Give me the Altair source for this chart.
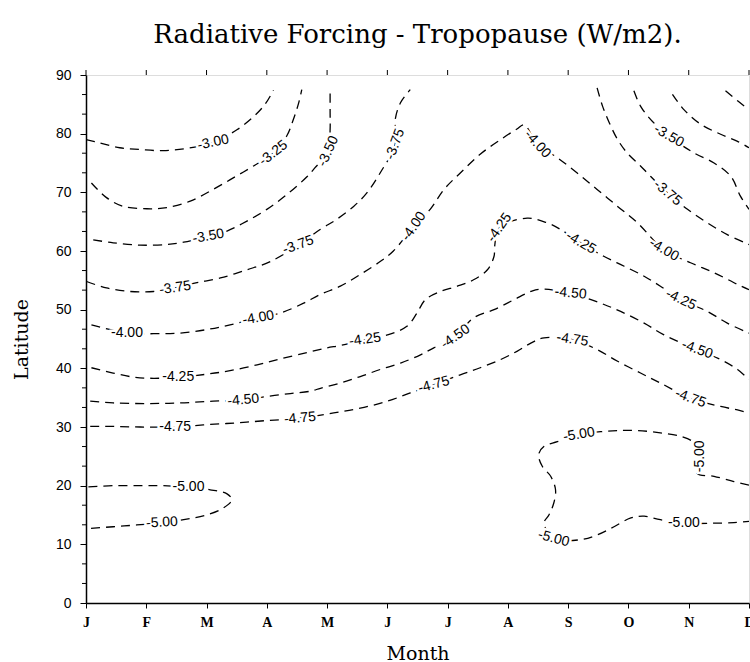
import altair as alt
import pandas as pd

# ---- axis values ----
month_letters = ["J", "F", "M", "A", "M", "J", "J", "A", "S", "O", "N", "D"]
month_ticks = [0, 1, 2, 3, 4, 5, 6, 7, 8, 9, 10, 11]
lat_ticks = [0, 10, 20, 30, 40, 50, 60, 70, 80, 90]
lat_minor = [3.33, 6.67, 13.33, 16.67, 23.33, 26.67, 33.33, 36.67, 43.33, 46.67,
             53.33, 56.67, 63.33, 66.67, 73.33, 76.67, 83.33, 86.67]

# ---- contour lines (month index, latitude) ----
c300_left = [(0.0, 79.0), (0.23, 78.4), (0.56, 77.6), (0.9, 77.3), (1.28, 77.1), (1.68, 77.5),
             (2.11, 78.5), (2.51, 80.7), (2.77, 82.8), (2.97, 85.0), (3.11, 87.4)]
c325_left = [(0.09, 71.6), (0.34, 69.1), (0.62, 67.6), (1.01, 67.2), (1.34, 67.4), (1.73, 68.5),
             (2.11, 70.5), (2.45, 72.5), (2.78, 74.5), (3.11, 76.7), (3.33, 79.6), (3.44, 82.4),
             (3.53, 85.3), (3.58, 87.5)]
c350_left = [(0.12, 61.9), (0.45, 61.4), (0.9, 61.0), (1.34, 61.1), (1.62, 61.5), (2.03, 62.5),
             (2.34, 63.4), (2.67, 65.1), (3.0, 67.1), (3.33, 69.6), (3.67, 72.7), (3.80, 74.2),
             (4.02, 77.0), (4.05, 80.7), (4.05, 83.6), (4.05, 87.3)]
c375_left = [(0.01, 54.8), (0.34, 53.7), (0.73, 53.1), (1.12, 53.1), (1.48, 53.7), (1.84, 54.6),
             (2.23, 55.4), (2.67, 56.8), (3.06, 58.2), (3.52, 61.0), (3.89, 63.7), (4.16, 65.4),
             (4.44, 67.6), (4.66, 69.9), (4.88, 73.3), (5.13, 78.2), (5.13, 82.4), (5.22, 85.3),
             (5.38, 87.5)]
c400 = [(0.09, 47.4), (0.68, 46.0), (1.12, 45.9), (1.56, 46.0), (2.0, 46.6), (2.39, 47.4),
        (2.86, 48.6), (3.22, 49.4), (3.61, 51.1), (3.89, 52.6), (4.22, 54.0), (4.55, 56.0),
        (4.88, 58.2), (5.1, 60.0), (5.44, 64.2), (5.71, 67.1), (5.94, 70.5), (6.21, 73.3),
        (6.54, 76.5), (6.88, 79.0), (7.15, 80.8), (7.27, 81.5), (7.49, 78.2), (7.82, 75.9),
        (8.15, 73.3), (8.48, 70.5), (8.82, 67.6), (9.15, 64.8), (9.59, 60.2), (10.03, 58.0),
        (10.42, 56.3), (10.81, 54.3), (11.0, 53.4)]
c425 = [(0.09, 40.1), (0.45, 39.2), (0.79, 38.5), (1.12, 38.3), (1.53, 38.5), (2.0, 39.0),
        (2.39, 39.6), (2.84, 40.6), (3.22, 41.6), (3.67, 42.7), (4.0, 43.5), (4.22, 43.9),
        (4.63, 44.9), (5.0, 45.7), (5.33, 47.2), (5.49, 49.4), (5.63, 51.7), (5.88, 53.1),
        (6.16, 54.0), (6.43, 55.1), (6.66, 56.8), (6.77, 59.1), (6.78, 60.8), (6.86, 64.0),
        (7.32, 65.6), (7.65, 64.8), (7.87, 63.7), (8.21, 61.4), (8.59, 59.1), (8.93, 57.4),
        (9.26, 55.7), (9.53, 54.0), (9.87, 51.7), (10.31, 49.7), (10.64, 47.7), (11.0, 46.0)]
c450 = [(0.07, 34.4), (0.45, 34.1), (1.01, 34.0), (1.56, 34.1), (2.11, 34.4), (2.61, 34.6),
        (3.0, 35.2), (3.39, 35.7), (3.72, 36.1), (3.89, 36.6), (4.22, 37.5), (4.55, 38.6),
        (4.88, 39.8), (5.22, 40.9), (5.55, 42.3), (5.77, 43.5), (6.13, 45.4), (6.43, 48.6),
        (6.77, 50.0), (7.1, 51.7), (7.38, 53.1), (7.54, 53.5), (8.04, 52.8), (8.54, 51.1),
        (8.87, 49.7), (9.26, 47.7), (9.59, 45.7), (10.14, 43.2), (10.53, 41.5), (10.81, 39.8),
        (11.0, 38.1)]
c475 = [(0.07, 30.1), (0.45, 30.1), (0.9, 30.0), (1.48, 30.0), (2.0, 30.4), (2.5, 30.7),
        (3.0, 31.1), (3.55, 31.5), (4.11, 32.4), (4.55, 33.2), (5.0, 34.4), (5.38, 35.8),
        (5.77, 37.2), (6.21, 38.9), (6.54, 40.1), (6.88, 41.5), (7.15, 42.9), (7.38, 44.3),
        (7.6, 45.2), (8.07, 44.9), (8.48, 43.2), (8.82, 41.2), (9.2, 39.2), (9.53, 37.5),
        (10.03, 34.9), (10.53, 33.5), (10.81, 32.9), (11.0, 32.4)]
c500_left = [(0.04, 19.8), (0.45, 20.0), (0.9, 20.0), (1.28, 20.0), (1.7, 19.7), (2.06, 19.3),
             (2.34, 18.6), (2.42, 17.6), (2.28, 16.2), (2.0, 15.0), (1.67, 14.3), (1.26, 13.7),
             (0.84, 13.3), (0.45, 13.0), (0.04, 12.7)]
c500_right = [(11.0, 20.1), (10.75, 20.7), (10.42, 21.6), (10.14, 22.1), (10.19, 25.0),
              (10.09, 27.3), (9.87, 28.4), (9.53, 29.0), (9.15, 29.4), (8.82, 29.4), (8.54, 29.2),
              (8.18, 28.7), (7.82, 27.5), (7.6, 26.7), (7.51, 25.3), (7.57, 23.3), (7.71, 21.6),
              (7.79, 19.3), (7.76, 17.0), (7.68, 15.0), (7.6, 13.6), (7.76, 11.0), (8.21, 10.8),
              (8.48, 11.6), (8.76, 13.0), (9.04, 14.5), (9.26, 14.8), (9.53, 14.2), (9.92, 13.6),
              (10.37, 13.6), (10.75, 13.7), (11.0, 13.9)]
c375_right = [(8.48, 87.8), (8.57, 84.7), (8.68, 81.9), (8.82, 79.0), (8.98, 76.7), (9.2, 74.5),
              (9.37, 72.7), (9.65, 69.9), (9.98, 67.1), (10.31, 64.8), (10.64, 62.8), (11.0, 61.1)]
c350_right = [(9.09, 87.3), (9.2, 84.7), (9.37, 82.4), (9.67, 79.6), (10.09, 76.7), (10.42, 75.0),
              (10.7, 72.7), (10.86, 69.3), (11.0, 67.1)]
c325_right = [(9.73, 86.7), (9.92, 84.1), (10.2, 81.6), (10.53, 79.9), (10.81, 78.7), (11.0, 77.6)]
c300_right = [(10.61, 87.3), (10.81, 85.6), (11.0, 84.1)]

# ---- contour labels ----
label_text = ["-3.00", "-3.25", "-3.50", "-3.50", "-3.75", "-3.75", "-3.75",
              "-4.00", "-4.00", "-4.00", "-4.00", "-4.00", "-3.75", "-3.50",
              "-4.25", "-4.25", "-4.25", "-4.25", "-4.25",
              "-4.50", "-4.50", "-4.50", "-4.50",
              "-4.75", "-4.75", "-4.75", "-4.75", "-4.75",
              "-5.00", "-5.00", "-5.00", "-5.00", "-5.00", "-5.00"]
label_month = [2.11, 3.11, 2.03, 4.02, 1.48, 3.52, 5.13,
               0.68, 2.86, 5.44, 7.49, 9.59, 9.65, 9.67,
               1.53, 4.63, 6.86, 8.21, 9.87,
               2.61, 6.13, 8.04, 10.14,
               1.48, 3.55, 5.77, 8.07, 10.03,
               1.7, 1.26, 8.18, 10.19, 7.76, 9.92]
label_lat = [78.5, 76.7, 62.5, 77.0, 53.7, 61.0, 78.2,
             46.0, 48.6, 64.2, 78.2, 60.2, 69.9, 79.6,
             38.5, 44.9, 64.0, 61.4, 51.7,
             34.6, 45.4, 52.8, 43.2,
             30.0, 31.5, 37.2, 44.9, 34.9,
             19.7, 13.7, 28.7, 25.0, 11.0, 13.6]
label_angle = [348, 322, 350, 295, 352, 340, 290,
               0, 350, 305, 48, 30, 40, 30,
               0, 352, 305, 30, 25,
               355, 325, 5, 20,
               0, 355, 345, 8, 20,
               0, 357, 350, 270, 15, 0]

contours = [("c300_left", c300_left), ("c325_left", c325_left), ("c350_left", c350_left),
            ("c375_left", c375_left), ("c400", c400), ("c425", c425), ("c450", c450),
            ("c475", c475), ("c500_left", c500_left), ("c500_right", c500_right),
            ("c375_right", c375_right), ("c350_right", c350_right),
            ("c325_right", c325_right), ("c300_right", c300_right)]

rows = []
for cid, pts in contours:
    for i, (m, lat) in enumerate(pts):
        rows.append({"cid": cid, "i": i, "month": m, "lat": lat})
lines_df = pd.DataFrame(rows)
labels_df = pd.DataFrame({"text": label_text, "month": label_month,
                          "lat": label_lat, "angle": label_angle})
minor_df = pd.DataFrame({"lat": lat_minor})
top_df = pd.DataFrame({"month": month_ticks})

letters_js = "[" + ",".join("'%s'" % s for s in month_letters) + "]"

x_axis = alt.Axis(values=month_ticks, labelExpr=letters_js + "[datum.value]", title="Month",
                  tickSize=5, tickColor="black", tickWidth=1, domainColor="black", domainWidth=1.5,
                  labelFont="Liberation Serif", labelFontWeight="bold", labelFontSize=14,
                  labelColor="black", labelPadding=7, labelFlush=False,
                  titleFont="DejaVu Serif", titleFontSize=19, titleFontWeight="normal",
                  titleColor="black", titlePadding=15, grid=False)
y_axis = alt.Axis(values=lat_ticks, title="Latitude", tickSize=6, tickColor="black", tickWidth=1,
                  domainColor="black", domainWidth=1.5, labelFont="Liberation Sans",
                  labelFontSize=14, labelColor="black", labelPadding=9,
                  titleFont="DejaVu Serif", titleFontSize=19, titleFontWeight="normal",
                  titleColor="black", titlePadding=24, grid=False)

x_scale = alt.Scale(domain=[0, 11], nice=False, zero=False)
y_scale = alt.Scale(domain=[0, 90], nice=False, zero=False)

def xe():
    return alt.X("month:Q", scale=x_scale, axis=x_axis)

def ye():
    return alt.Y("lat:Q", scale=y_scale, axis=y_axis)

lines = alt.Chart(lines_df).mark_line(
    color="black", strokeWidth=1.3, strokeDash=[9, 6], interpolate="catmull-rom", clip=True
).encode(x=xe(), y=ye(), detail="cid:N", order="i:Q")

halo = alt.Chart(labels_df).mark_text(
    font="Liberation Sans", fontSize=14, color="white", stroke="white", strokeWidth=5
).encode(x=xe(), y=ye(), text="text:N", angle=alt.Angle("angle:Q", scale=None))

texts = alt.Chart(labels_df).mark_text(
    font="Liberation Sans", fontSize=14, color="black"
).encode(x=xe(), y=ye(), text="text:N", angle=alt.Angle("angle:Q", scale=None))

minor = alt.Chart(minor_df).mark_rule(color="black", strokeWidth=1).encode(
    y=ye(), x=alt.value(-4), x2=alt.value(0))

top_ticks = alt.Chart(top_df).mark_rule(color="black", strokeWidth=1).encode(
    x=xe(), y=alt.value(0), y2=alt.value(-5))

chart = alt.layer(lines, halo, texts, minor, top_ticks).properties(
    width=663, height=528,
    autosize=alt.AutoSizeParams(type="none"),
    padding={"left": 86, "top": 75, "right": 1, "bottom": 59},
    title=alt.TitleParams("Radiative Forcing - Tropopause (W/m2).", font="DejaVu Serif",
                          fontSize=26, fontWeight="normal", color="black",
                          anchor="middle", offset=20),
).configure_view(stroke="black", strokeWidth=1.5).configure(background="white")

chart.save("out.html", embed_options={"renderer": "svg", "actions": False})
